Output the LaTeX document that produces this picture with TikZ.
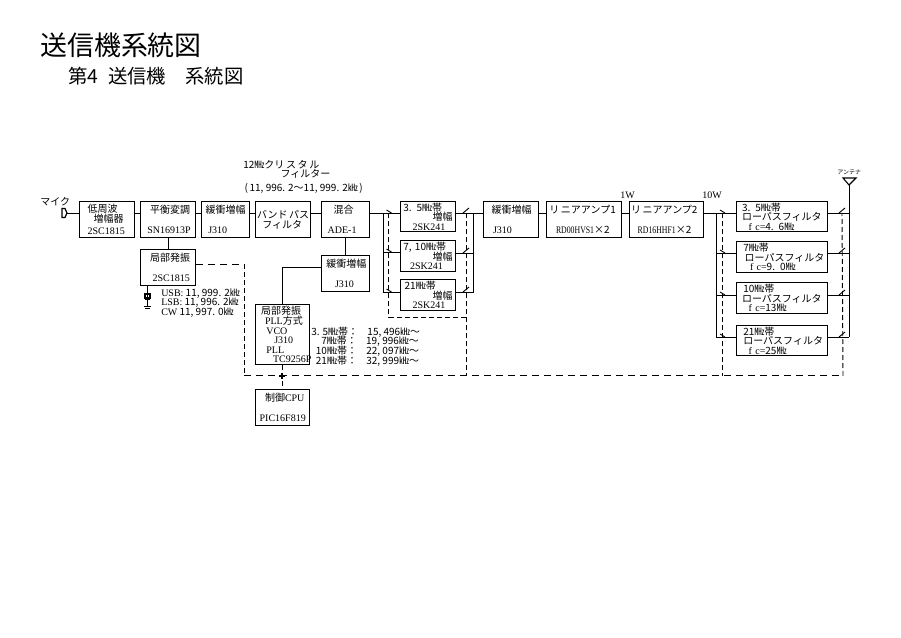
\documentclass[tikz,border=0pt]{standalone}
\usepackage{fontspec}
\setmainfont{Noto Sans CJK JP}
\newfontfamily\latin{Liberation Serif}
\newfontfamily\narrowlatin[FakeStretch=0.78]{Liberation Serif}
\usetikzlibrary{calc,positioning}
\newcommand{\boxfont}{\fontsize{7.5}{7.2}\selectfont\lineskiplimit=-5pt\relax}
\tikzset{
  unit/.style 2 args={
    rectangle,
    draw=black, line width=1pt,
    anchor=north west,
    minimum width=\dimexpr#1pt*3/4\relax,
    minimum height=\dimexpr#2pt*3/4\relax,
    text width=\dimexpr#1pt*3/4\relax,
    inner xsep=0pt, inner ysep=0pt,
    align=left,
    font=\boxfont},
  line/.style={draw, line width=0.7pt},
  ctrl/.style={draw, line width=0.75pt, dash pattern=on 5.25pt off 3.75pt},
  ctrlv/.style={draw, line width=0.7pt, dash pattern=on 3.75pt off 2.25pt},
  swbar/.style={draw, line width=0.7pt},
  note/.style={anchor=west, inner sep=0pt, align=left, font=\boxfont},
}
% switch blades: input side and output side
\newcommand{\swin}[2]{%
  \coordinate (#1) at #2;
  \draw[swbar] ($(#1)+(-2,-3)$) -- ($(#1)+(3,0)$);
}
\newcommand{\swout}[2]{%
  \coordinate (#1) at #2;
  \draw[swbar] ($(#1)+(-3,0)$) -- ($(#1)+(3,-5)$);
}
\begin{document}
\begin{tikzpicture}[x=0.75pt,y=-0.75pt]
    \useasboundingbox (0,0) rectangle (901,638);
    \coordinate (busA) at (0,213);

    % titles
    \node[note, font=\fontsize{20.2}{20}\selectfont] (title) at (40,45) {送信機系統図};
    \node[note, font=\fontsize{14.5}{14.5}\selectfont] (subtitle) at (68,76) {第4\hspace{7.5pt}送信機　系統図};

    % upper row
    \node[unit={55}{36}] (lowamp) at (79,201) {\hspace*{6pt}低周波\\\hspace*{10.5pt}増幅器\\[2pt]\hspace*{6pt}{\latin 2SC1815}};
    \node[unit={55}{36}] (balmod) at (140,201) {\hspace*{7pt}平衡変調\\[8pt]\hspace*{5pt}{\latin SN16913P}};
    \node[unit={48}{36}] (bufa) at (201,201) {\hspace*{3pt}緩衝増幅\\[8pt]\hspace*{5pt}{\latin J310}};
    \node[unit={55}{36}] (bpf) at (255,201) {\hspace*{1pt}バンド\,パス\\\hspace*{5pt}フィルタ};
    \node[unit={48}{36}] (mixer) at (321,201) {\hspace*{9pt}混合\\[8pt]\hspace*{4.5pt}{\latin ADE-1}};
    \node[unit={48}{36}] (bufb) at (321,255) {\hspace*{3.5pt}緩衝増幅\\[8pt]\hspace*{10pt}{\latin J310}};
    \node[unit={55}{36}] (oscssb) at (140,249) {\hspace*{7pt}局部発振\\[8pt]\hspace*{9pt}{\latin 2SC1815}};
    \node[unit={54}{60}] (oscpll) at (255,304) {\hspace*{4pt}局部発振\\\hspace*{7pt}{\latin PLL}方式\\\hspace*{8pt}{\latin VCO}\\\hspace*{14pt}{\latin J310}\\\hspace*{8pt}{\latin PLL}\\\hspace*{13pt}{\latin TC9256P}};
    \node[unit={54}{36}] (cpu) at (255,389) {\hspace*{7pt}制御{\latin CPU}\\[8pt]\hspace*{3pt}{\latin PIC16F819}};

    % band amplifiers
    \node[unit={55}{30}] (ampa) at (400,201) {\hspace*{2pt}3. 5㎒帯\\\hspace*{24pt}増幅\\\hspace*{9pt}{\latin 2SK241}};
    \node[unit={55}{31}] (ampb) at (400,240) {\hspace*{2pt}7, 10㎒帯\\\hspace*{24pt}増幅\\\hspace*{7pt}{\latin 2SK241}};
    \node[unit={55}{31}] (ampc) at (400,279) {\hspace*{3pt}21㎒帯\\\hspace*{24pt}増幅\\\hspace*{9pt}{\latin 2SK241}};

    \node[unit={55}{36}] (bufc) at (483,201) {\hspace*{6pt}緩衝増幅\\[8pt]\hspace*{7pt}{\latin J310}};
    \node[unit={75}{36}] (lina) at (546,201) {\hspace*{2pt}リ\,ニアアンプ1\\[8pt]\hspace*{7pt}{\narrowlatin RD00HVS1}×2};
    \node[unit={74}{36}] (linb) at (629,201) {\hspace*{1pt}リ\,ニアアンプ2\\[8pt]\hspace*{6pt}{\narrowlatin RD16HHF1}×2};

    % low pass filters
    \node[unit={91}{30}] (lpfa) at (736,201) {\hspace*{4pt}3. 5㎒帯\\\hspace*{4pt}ローパスフィルタ\\\hspace*{9pt}{\latin f c=}4. 6㎒};
    \node[unit={91}{31}] (lpfb) at (736,241) {\hspace*{5pt}7㎒帯\\\hspace*{6pt}ローパスフィルタ\\\hspace*{10pt}{\latin f c=}9. 0㎒};
    \node[unit={91}{31}] (lpfc) at (736,282) {\hspace*{5pt}10㎒帯\\\hspace*{4pt}ローパスフィルタ\\\hspace*{9pt}{\latin f c=}13㎒};
    \node[unit={91}{30}] (lpfd) at (736,325) {\hspace*{5pt}21㎒帯\\\hspace*{5pt}ローパスフィルタ\\\hspace*{9pt}{\latin f c=}25㎒};

    % free texts
    \node[note] (miclabel) at (40,202) {マイク};
    \node[note] (xtallabel) at (243,169.5) {12㎒クリ\,ス\,タ\,ル\\\hspace*{28pt}フィルター};
    \node[note] (xtalrange) at (243,188) {\hspace*{1pt}(\,11, 996. 2～11, 999. 2㎑\,)};
    \node[note] (wa) at (620,195) {\latin 1W};
    \node[note] (wb) at (702,195) {\latin 10W};
    \node[note, font=\fontsize{4.5}{4.5}\selectfont] (antlabel) at (837,172) {アンテナ};
    \node[note] (carrier) at (161,303) {{\latin USB:} 11, 999. 2㎑\\{\latin LSB:} 11, 996. 2㎑\\{\latin CW} 11, 997. 0㎑};
    \node[note] (vcotable) at (311,346.5) {3. 5㎒帯：\hspace{7pt}15, 496㎑～\\\hspace*{7.5pt}7㎒帯：\hspace{7pt}19, 996㎑～\\\hspace*{3.5pt}10㎒帯：\hspace{7pt}22, 097㎑～\\\hspace*{3.5pt}21㎒帯：\hspace{7pt}32, 999㎑～};

    % microphone
    \coordinate (mic) at (66,213);
    \draw[line width=0.9pt] (62,208.5) -- (62,217.5) -- (65,217.5) -- (67,213) -- (65,208.5) -- cycle;
    \path[line] (mic) -- (lowamp.west |- busA);

    % main line
    \path[line] (lowamp.east |- busA) -- (balmod.west |- busA);
    \path[line] (balmod.east |- busA) -- (bufa.west |- busA);
    \path[line] (bufa.east |- busA) -- (bpf.west |- busA);
    \path[line] (bpf.east |- busA) -- (mixer.west |- busA);
    \path[line] (bufc.east |- busA) -- (lina.west |- busA);
    \path[line] (lina.east |- busA) -- (linb.west |- busA);
    \path[line] (balmod) -- (oscssb);
    \path[line] (mixer) -- (bufb);
    \path[line] (bufb.west |- 0,267) -| (oscpll.north);

    % band switches
    \coordinate (lbus) at (383,0);
    \coordinate (rbus) at (473,0);
    \path[line] (mixer.east |- busA) -- (ampa.west |- busA);
    \swin{swa}{(388.5,213)}
    \swin{swb}{(388.5,252)}
    \swin{swc}{(388.5,292)}
    \path[line] (lbus |- busA) -- (lbus |- swc);
    \path[line] (lbus |- swb) -- (ampb.west |- swb);
    \path[line] (lbus |- swc) -- (ampc.west |- swc);
    \swout{swd}{(466,213)}
    \swout{swe}{(466,253)}
    \swout{swf}{(466,292)}
    \path[line] (ampa.east |- busA) -- (bufc.west |- busA);
    \path[line] (ampb.east |- swe) -- (rbus |- swe);
    \path[line] (ampc.east |- swf) -- (rbus |- swf) -- (rbus |- busA);

    % filter switches
    \coordinate (fbus) at (716,0);
    \coordinate (abus) at (849,0);
    \path[line] (linb.east |- busA) -- (fbus |- busA);
    \swin{swg}{(722,213)}
    \swin{swh}{(722,253)}
    \swin{swi}{(722,295)}
    \swin{swj}{(722,337)}
    \path[line] (fbus |- swg) -- (lpfa.west |- swg);
    \path[line] (fbus |- swh) -- (lpfb.west |- swh);
    \path[line] (fbus |- swi) -- (lpfc.west |- swi);
    \path[line] (fbus |- swj) -- (lpfd.west |- swj);
    \path[line] (fbus |- swg) -- (fbus |- swj);
    \swout{swk}{(842,213)}
    \swout{swl}{(842,253)}
    \swout{swm}{(842,295)}
    \swout{swn}{(842,337)}
    \path[line] (lpfa.east |- swk) -- (abus |- swk);
    \path[line] (lpfb.east |- swl) -- (abus |- swl);
    \path[line] (lpfc.east |- swm) -- (abus |- swm);
    \path[line] (lpfd.east |- swn) -- (abus |- swn);

    % antenna
    \coordinate (ant) at (849,185);
    \draw[line width=0.8pt] (843,178) -- (856,178) -- (ant) -- cycle;
    \path[line] (ant) -- (abus |- swn);

    % crystal on the oscillator
    \coordinate (xtal) at (147.5,296.5);
    \coordinate (gnd) at (147.5,306);
    \path[line] (oscssb.south -| xtal) -- (xtal);
    \draw[line width=0.9pt] (145,294) rectangle (150,298);
    \draw[line width=0.7pt] (145,293) -- (150,293);
    \draw[line width=0.7pt] (145,299.5) -- (150,299.5);
    \path[line] (xtal) -- (gnd);
    \draw[line width=0.7pt] (144,306) -- (151,306) (145,308) -- (150,308);

    % control lines
    \coordinate (ca) at (244,264.5);
    \coordinate (cb) at (244,376);
    \coordinate (ce) at (843,376);
    \coordinate (cf) at (388.5,317);
    \coordinate (cg) at (466,317);
    \path[ctrl] (oscssb.east |- ca) -- (ca);
    \path[ctrlv] (ca) -- (cb);
    \path[ctrl] (cb) -- (ce);
    \path[ctrlv] (ce) -- (swk);
    \path[ctrlv] (swa) -- (cf) -- (cg) -- (swd);
    \path[ctrlv] (cg) -- (cg |- cb);
    \path[ctrlv] (swg) -- (swg |- cb);
    \path[ctrlv] (oscpll) -- (cpu);
    \draw[line width=0.8pt] (279,376) -- (285,376) (282,373) -- (282,379);
\end{tikzpicture}
\end{document}
